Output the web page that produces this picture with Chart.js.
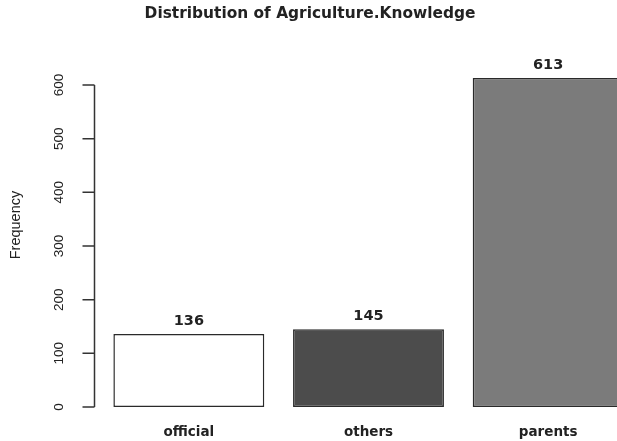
<!DOCTYPE html>
<html>
<head>
<meta charset="utf-8">
<script src="https://cdn.jsdelivr.net/npm/chart.js@4"></script>
<style>
    html, body { margin: 0; padding: 0; background: #fff; overflow: hidden; }
    #wrap { position: relative; width: 640px; height: 441px; }
</style>
</head>
<body>
<div id="wrap"><canvas id="freqChart"></canvas></div>
<script>
// Data
const categories = ['official', 'others', 'parents'];
const frequencies = [136, 145, 613];
const yTicks = [0, 100, 200, 300, 400, 500, 600];
const chartTitle = 'Distribution of Agriculture.Knowledge';
const yTitle = 'Frequency';

// R-style axis, rotated tick labels, title and value labels
const rStylePlugin = {
    id: 'rStyle',
    afterDatasetsDraw(chart) {
        const ctx = chart.ctx;
        const x = chart.scales.x;
        const y = chart.scales.y;
        ctx.save();
        ctx.fillStyle = '#222';
        ctx.strokeStyle = '#333';
        ctx.textAlign = 'center';
        ctx.textBaseline = 'middle';

        // title
        ctx.font = 'bold 15.4px "DejaVu Sans"';
        ctx.fillText(chartTitle, 310, 14);

        // y axis line + ticks
        const axisX = 94.5;
        ctx.lineWidth = 1.5;
        ctx.beginPath();
        ctx.moveTo(axisX, y.getPixelForValue(yTicks[0]));
        ctx.lineTo(axisX, y.getPixelForValue(yTicks[yTicks.length - 1]));
        yTicks.forEach(v => {
            const py = y.getPixelForValue(v);
            ctx.moveTo(axisX, py);
            ctx.lineTo(axisX - 12, py);
        });
        ctx.stroke();

        // rotated tick labels
        ctx.font = '13.5px "Liberation Sans"';
        yTicks.forEach(v => {
            ctx.save();
            ctx.translate(59, y.getPixelForValue(v));
            ctx.rotate(-Math.PI / 2);
            ctx.fillText(String(v), 0, 0);
            ctx.restore();
        });

        // y title
        ctx.font = '14.5px "Liberation Sans"';
        ctx.save();
        ctx.translate(16, 225);
        ctx.rotate(-Math.PI / 2);
        ctx.fillText(yTitle, 0, 0);
        ctx.restore();

        // category names under bars
        ctx.font = 'bold 13.5px "DejaVu Sans"';
        categories.forEach((c, i) => {
            ctx.fillText(c, x.getPixelForValue(i), 432);
        });

        // counts above bars
        ctx.font = 'bold 14.5px "DejaVu Sans"';
        const meta = chart.getDatasetMeta(0);
        meta.data.forEach((bar, i) => {
            ctx.fillText(String(frequencies[i]), bar.x, bar.y - 13);
        });
        ctx.restore();
    }
};

const ctx = document.getElementById('freqChart').getContext('2d');
new Chart(ctx, {
    type: 'bar',
    data: {
        labels: categories,
        datasets: [{
            data: frequencies,
            backgroundColor: ['#ffffff', '#4c4c4c', '#7b7b7b'],
            borderColor: '#2a2a2a',
            borderWidth: 1.5,
            borderSkipped: false,
            barPercentage: 0.84,
            categoryPercentage: 1
        }]
    },
    options: {
        responsive: true,
        maintainAspectRatio: false,
        animation: false,
        layout: {
            padding: { left: 99, right: 2, top: 70, bottom: 34 }
        },
        plugins: {
            legend: { display: false },
            tooltip: { enabled: false },
            title: { display: false }
        },
        scales: {
            x: { display: false },
            y: { display: false, min: 0, max: 628 }
        }
    },
    plugins: [rStylePlugin]
});
</script>
</body>
</html>
